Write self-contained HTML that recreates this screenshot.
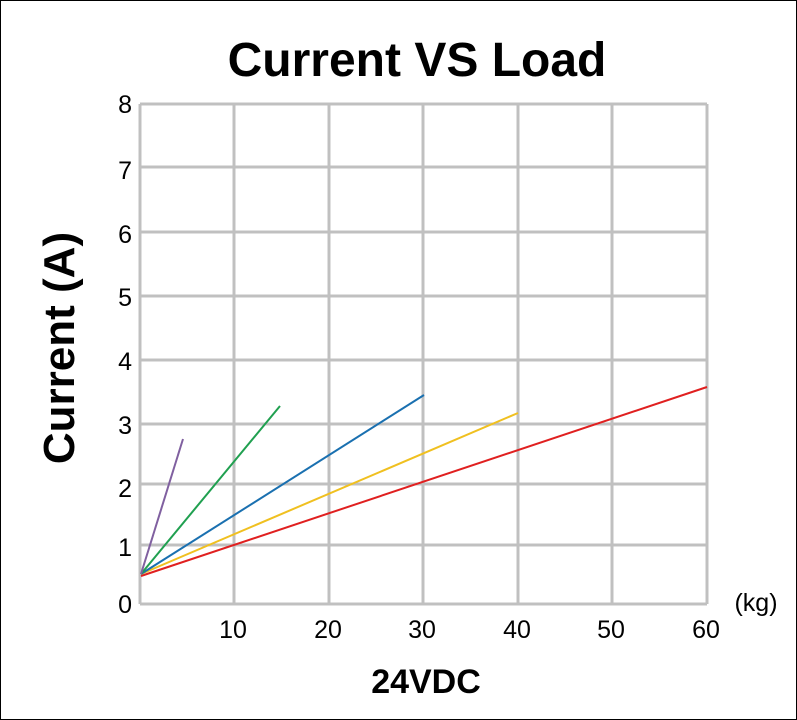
<!DOCTYPE html>
<html><head><style>
body{margin:0;background:#fff;}
svg{display:block;font-family:"Liberation Sans",Arial,sans-serif;}
</style></head><body>
<svg width="797" height="720" viewBox="0 0 797 720" xmlns="http://www.w3.org/2000/svg">
<rect x="0.5" y="0.5" width="796" height="719" fill="#fff" stroke="#000" stroke-width="1"/>
<text x="417" y="76" font-size="48" font-weight="bold" text-anchor="middle">Current VS Load</text>
<g stroke="#c0c0c0" stroke-width="3" fill="none">
<line x1="140" y1="104" x2="707" y2="104"/>
<line x1="140" y1="167" x2="707" y2="167"/>
<line x1="140" y1="232" x2="707" y2="232"/>
<line x1="140" y1="296" x2="707" y2="296"/>
<line x1="140" y1="360" x2="707" y2="360"/>
<line x1="140" y1="424" x2="707" y2="424"/>
<line x1="140" y1="484" x2="707" y2="484"/>
<line x1="140" y1="545" x2="707" y2="545"/>
<line x1="140" y1="604" x2="707" y2="604"/>
<line x1="140" y1="104" x2="140" y2="604"/>
<line x1="234" y1="104" x2="234" y2="604"/>
<line x1="329" y1="104" x2="329" y2="604"/>
<line x1="423" y1="104" x2="423" y2="604"/>
<line x1="518" y1="104" x2="518" y2="604"/>
<line x1="612" y1="104" x2="612" y2="604"/>
<line x1="707" y1="104" x2="707" y2="604"/>
</g>
<g font-size="25" text-anchor="end" fill="#000">
<text x="132" y="113">8</text><text x="132" y="179">7</text><text x="132" y="243">6</text>
<text x="132" y="306">5</text><text x="132" y="370">4</text><text x="132" y="434">3</text>
<text x="132" y="497">2</text><text x="132" y="556">1</text><text x="132" y="613">0</text>
</g>
<g font-size="25" text-anchor="middle" fill="#000">
<text x="233" y="638">10</text><text x="328" y="638">20</text><text x="422" y="638">30</text>
<text x="517" y="638">40</text><text x="611" y="638">50</text><text x="706" y="638">60</text>
</g>
<text x="756" y="611" font-size="25" text-anchor="middle">(kg)</text>
<text x="426" y="693" font-size="34" font-weight="bold" text-anchor="middle">24VDC</text>
<text transform="translate(74,348) rotate(-90)" font-size="44" font-weight="bold" text-anchor="middle">Current (A)</text>
<g stroke-width="2" fill="none">
<line x1="141" y1="576" x2="707" y2="387" stroke="#e02020"/>
<line x1="141" y1="574" x2="518" y2="413" stroke="#f0c020"/>
<line x1="141" y1="574" x2="424" y2="395" stroke="#1a70b0"/>
<line x1="141" y1="574" x2="280" y2="406" stroke="#20a050"/>
<line x1="141" y1="574" x2="183" y2="439" stroke="#8060a0"/>
</g>
</svg>
</body></html>
